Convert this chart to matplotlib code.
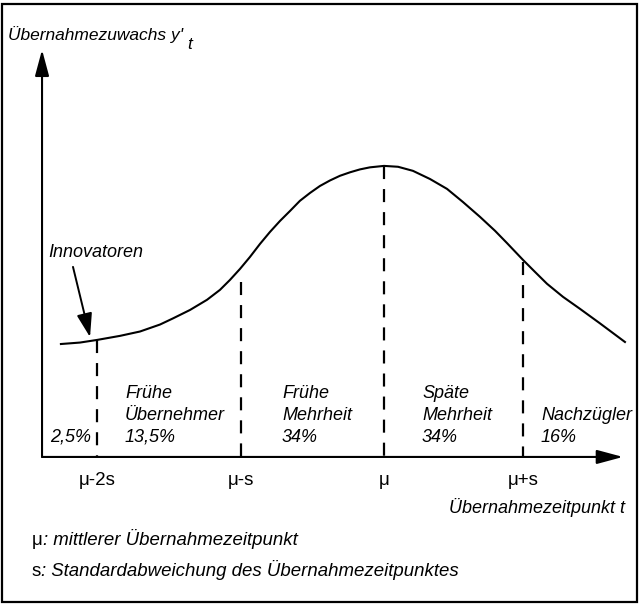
import matplotlib
matplotlib.use('Agg')
from matplotlib import pyplot as plt
from matplotlib.patches import Rectangle

plt.rcParams['font.family'] = ['Liberation Sans', 'DejaVu Sans']
plt.rcParams['lines.scale_dashes'] = False

# adoption curve: x in units of s around mu, y relative to the peak
curve_x = [-2.275, -2.141, -2.021, -1.859, -1.718, -1.577, -1.486, -1.366, -1.246,
           -1.155, -1.085, -1.014, -0.944, -0.873, -0.803, -0.732, -0.662, -0.592,
           -0.521, -0.451, -0.380, -0.310, -0.239, -0.169, -0.099, 0.0, 0.099,
           0.204, 0.324, 0.444, 0.556, 0.676, 0.782, 0.866, 0.979, 1.063, 1.148,
           1.261, 1.380, 1.521, 1.697]
curve_y = [0.388, 0.393, 0.402, 0.416, 0.431, 0.455, 0.476, 0.505, 0.540,
           0.574, 0.608, 0.646, 0.687, 0.732, 0.773, 0.811, 0.845, 0.880,
           0.907, 0.931, 0.950, 0.966, 0.978, 0.988, 0.995, 1.0, 0.997,
           0.983, 0.955, 0.921, 0.876, 0.825, 0.777, 0.735, 0.677, 0.636, 0.595,
           0.550, 0.509, 0.459, 0.395]

# the drawn tick positions are not quite evenly spaced
tick_pos = [-2.02, -1.01, 0, 0.98]
tick_labels = ['μ-2s', 'μ-s', 'μ', 'μ+s']
line_top = [0.402, 0.601, 1.0, 0.67]

group_x = [-2.352, -1.824, -0.718, 0.268, 1.106]
group_names = [[], ['Frühe', 'Übernehmer'], ['Frühe', 'Mehrheit'],
               ['Späte', 'Mehrheit'], ['Nachzügler']]
group_shares = ['2,5%', '13,5%', '34%', '34%', '16%']

y_label = "Übernahmezuwachs y'"
x_label = 'Übernahmezeitpunkt t'
notes = [('μ', ': mittlerer Übernahmezeitpunkt'),
         ('s', ': Standardabweichung des Übernahmezeitpunktes')]

fig = plt.figure(figsize=(6.4, 6.08), dpi=100)
ax = fig.add_axes([0, 0, 1, 1])
ax.set_xlim(-2.704, 1.803)
ax.set_ylim(-0.519, 1.570)
ax.axis('off')

# frame round the whole picture
fig.patches.append(Rectangle((0.003, 0.010), 0.992, 0.984, transform=fig.transFigure,
                             fill=False, lw=1.6, edgecolor='k'))

x0 = -2.408
arrow = dict(arrowstyle='-|>,head_length=1.6,head_width=0.43', lw=1.5, color='k',
             shrinkA=0, shrinkB=0, mutation_scale=10)
ax.annotate('', xy=(x0, 1.399), xytext=(x0, 0), arrowprops=arrow)
ax.annotate('', xy=(1.683, 0), xytext=(x0, 0), arrowprops=arrow)

ax.plot(curve_x, curve_y, color='k', lw=1.5, solid_joinstyle='round')

for x, top in zip(tick_pos, line_top):
    ax.plot([x, x], [top, 0], color='k', lw=1.6, linestyle=(0, (9.4, 7.2)))

txt = dict(fontsize=13, style='italic', va='baseline', ha='left')
for x, names, share in zip(group_x, group_names, group_shares):
    ax.text(x, 0.052, share, **txt)
    for i, name in enumerate(reversed(names)):
        ax.text(x, 0.127 + i * 0.0756, name, **txt)

for x, lab in zip(tick_pos, tick_labels):
    ax.text(x, -0.096, lab, fontsize=13.5, ha='center', va='baseline')

head = ax.text(-2.648, 1.433, y_label, fontsize=12.5, style='italic',
               va='baseline', ha='left')
ax.annotate('t', xy=(1, 0), xycoords=head, xytext=(3, -4.5), textcoords='offset points',
            fontsize=12.5, style='italic', va='baseline', ha='left')
ax.text(1.697, -0.192, x_label, fontsize=13, style='italic', ha='right', va='baseline')

ax.text(-2.366, 0.687, 'Innovatoren', **txt)
ax.annotate('', xy=(-2.07, 0.412), xytext=(-2.19, 0.653),
            arrowprops=dict(arrowstyle='-|>,head_length=1.45,head_width=0.47', lw=1.4,
                            color='k', shrinkA=0, shrinkB=0, mutation_scale=10))

for (sym, rest), y in zip(notes, [-0.302, -0.409]):
    t = ax.text(-2.479, y, sym, fontsize=13.4, va='baseline', ha='left')
    ax.annotate(rest, xy=(1, 0), xycoords=t, fontsize=13.4, style='italic',
                va='bottom', ha='left')

fig.savefig('out.png', dpi=100)
